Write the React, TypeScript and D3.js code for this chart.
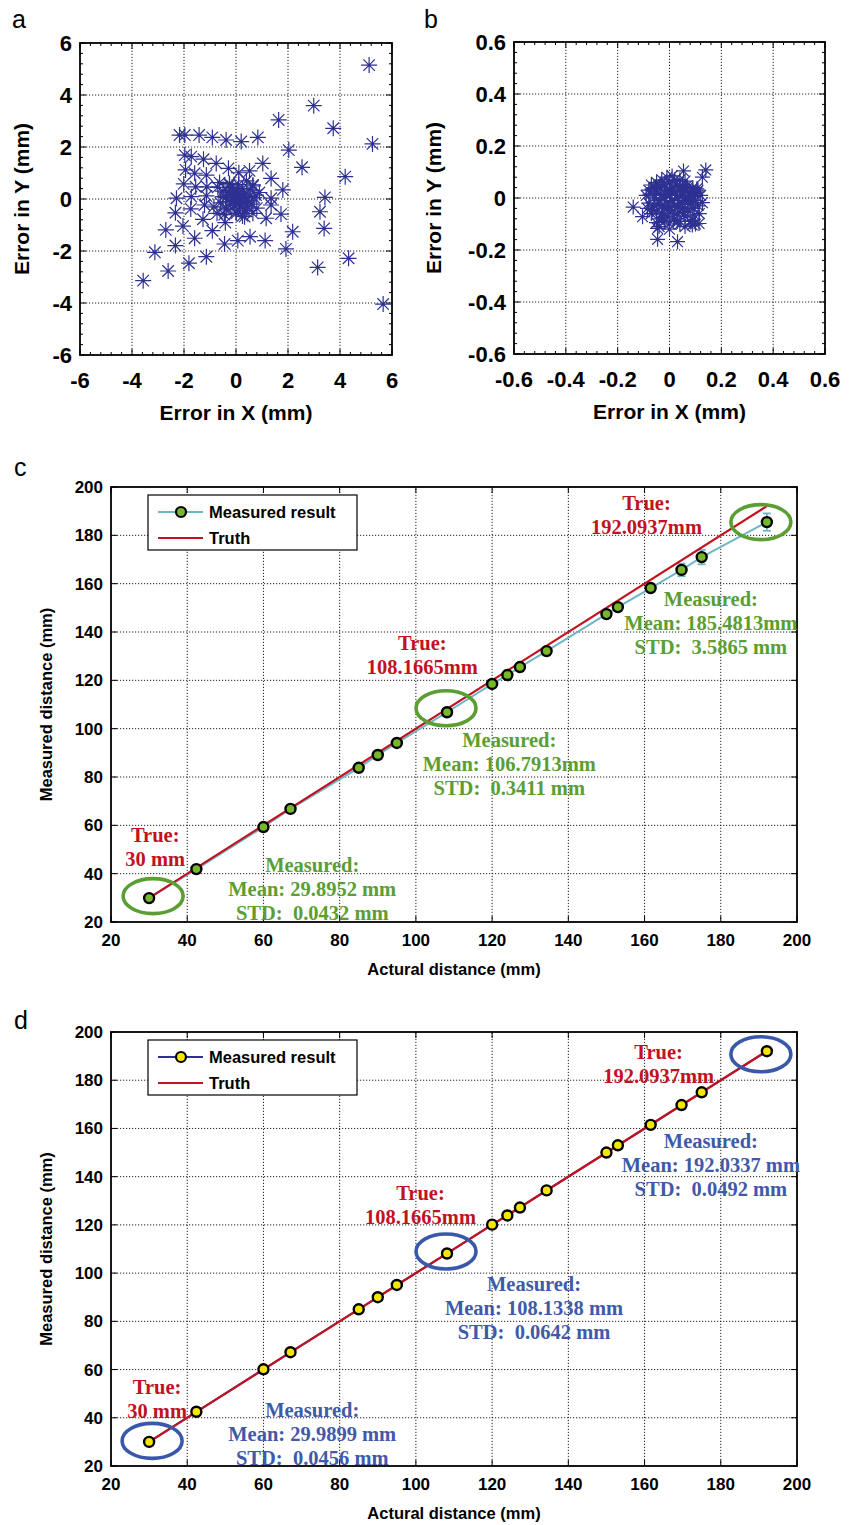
import React from 'react';
import * as d3 from 'd3';

// panel a: position error (mm), before correction
const errorsA: [number, number][] = [
  [5.12, 5.15], [2.99, 3.59], [1.64, 3.04], [3.74, 2.72], [5.25, 2.12], [2.03, 1.88],
  [2.54, 1.22], [4.2, 0.86], [3.42, 0.06], [3.23, -0.49], [3.39, -1.13], [2.18, -1.26],
  [1.92, -1.92], [4.33, -2.28], [3.14, -2.63], [5.66, -4.04], [-2.17, 2.46], [-1.97, 2.46],
  [-1.42, 2.46], [-0.91, 2.37], [-0.38, 2.27], [0.2, 2.21], [0.84, 2.37], [-1.97, 1.69],
  [-1.72, 1.63], [-1.25, 1.53], [-0.76, 1.37], [-0.29, 1.18], [0.11, 1.01], [0.52, 1.08],
  [1.03, 1.37], [-1.94, 1.12], [-1.59, 0.99], [-1.14, 0.92], [1.35, 0.79], [1.8, 0.35],
  [-2.01, 0.58], [-1.55, 0.47], [-1.12, 0.47], [-0.63, 0.63], [-0.25, 0.54], [0.65, 0.54],
  [-2.29, 0.03], [-1.72, 0.09], [-1.14, 0.12], [-0.5, 0.09], [-0.12, -0.04], [0.01, 0.09],
  [0.13, -0.17], [0.39, -0.04], [0.77, 0.15], [1.35, 0.03], [1.35, -0.23], [-2.33, -0.53],
  [-1.74, -0.38], [-1.21, -0.23], [-0.73, -0.55], [-0.38, -0.42], [0.01, -0.55], [0.33, -0.68],
  [0.65, -0.55], [1.16, -0.74], [1.73, -0.58], [-1.27, -0.78], [-0.41, -0.91], [-2.04, -1.04],
  [-2.7, -1.19], [-0.91, -1.22], [-1.59, -1.51], [-0.44, -1.73], [0.07, -1.6], [0.54, -1.45],
  [1.12, -1.6], [-2.33, -1.79], [-3.12, -2.05], [-1.14, -2.22], [-1.81, -2.47], [-2.61, -2.77],
  [-3.57, -3.14], [0.0, 0.0], [0.1, 0.1], [-0.1, 0.2], [0.2, -0.1], [-0.2, -0.1], [0.3, 0.2],
  [-0.3, 0.3], [0.15, -0.3], [-0.05, -0.25], [0.4, -0.05], [-0.4, 0.05], [0.05, 0.35],
  [0.25, 0.4], [-0.15, 0.45], [0.5, 0.1], [0.45, -0.3], [-0.35, -0.35], [0.6, -0.2],
  [-0.6, -0.15], [0.35, -0.45], [0.0, -0.5], [-0.25, 0.6], [0.1, 0.55], [0.55, 0.35],
  [0.7, 0.05], [-0.5, 0.3], [0.2, 0.0], [-0.1, -0.05], [0.05, 0.15], [0.3, -0.15],
  [-0.2, 0.15], [0.12, -0.12], [0.8, -0.35], [-0.7, 0.45], [0.65, 0.5], [-0.45, -0.6],
  [0.25, -0.65], [0.9, 0.25], [-0.85, -0.3], [0.4, 0.7],
];

// panel b: position error (mm), after correction
const errorsB: [number, number][] = [
  [-0.14, -0.035], [0.14, 0.108], [0.127, 0.08], [0.054, 0.104], [-0.046, -0.159], [0.031, -0.168],
  [-0.104, -0.072], [-0.046, -0.117], [0.088, -0.104], [0.114, -0.098], [0.127, -0.018], [0.108, 0.024],
  [-0.08, 0.03], [-0.07, 0.05], [-0.06, 0.0], [-0.06, -0.03], [-0.05, 0.06], [-0.05, 0.02],
  [-0.05, -0.05], [-0.04, 0.04], [-0.04, -0.01], [-0.04, -0.08], [-0.03, 0.07], [-0.03, 0.01],
  [-0.03, -0.03], [-0.03, -0.06], [-0.02, 0.05], [-0.02, 0.0], [-0.02, -0.04], [-0.02, -0.09],
  [-0.01, 0.03], [-0.01, -0.02], [-0.01, -0.07], [0.0, 0.06], [0.0, 0.01], [0.0, -0.03],
  [0.0, -0.1], [0.01, 0.04], [0.01, -0.01], [0.01, -0.05], [0.02, 0.07], [0.02, 0.02],
  [0.02, -0.03], [0.02, -0.08], [0.03, 0.05], [0.03, 0.0], [0.03, -0.06], [0.04, 0.03],
  [0.04, -0.02], [0.04, -0.1], [0.05, 0.05], [0.05, 0.01], [0.05, -0.04], [0.06, 0.03],
  [0.06, -0.01], [0.06, -0.07], [0.07, 0.04], [0.07, 0.0], [0.07, -0.05], [0.08, 0.02],
  [0.08, -0.02], [0.08, -0.09], [0.09, 0.04], [0.09, 0.0], [0.09, -0.04], [0.1, 0.02],
  [0.1, -0.01], [0.1, -0.1], [0.11, 0.03], [0.11, -0.03], [0.12, 0.01], [-0.07, -0.06],
  [-0.08, -0.02], [-0.09, 0.01], [-0.06, 0.04], [-0.01, 0.08], [0.04, 0.07], [-0.04, -0.11],
  [0.0, -0.12], [0.06, -0.11], [0.03, -0.09], [-0.075, 0.015], [-0.065, -0.045], [-0.055, 0.035],
  [-0.045, -0.025], [-0.035, 0.045], [-0.025, -0.075], [-0.015, 0.015], [-0.005, -0.045], [0.005, 0.025],
  [0.015, -0.085], [0.025, 0.045], [0.035, -0.035], [0.045, 0.015], [0.055, -0.055], [0.065, 0.045],
  [0.075, -0.025], [0.085, 0.005], [0.095, -0.065], [0.105, 0.035], [-0.085, -0.04], [0.115, -0.06],
  [0.01, 0.085], [0.06, 0.065], [-0.05, -0.095], [0.09, -0.085],
];

const ticksA = [-6, -4, -2, 0, 2, 4, 6];
const ticksB = [-0.6, -0.4, -0.2, 0, 0.2, 0.4, 0.6];

// panels c, d
const actualDist = [30, 42.4, 60, 67.1, 85, 90, 95, 108.1665, 120, 124, 127.3, 134.3, 150, 153, 161.6, 169.7, 175, 192.0937];
const measuredC = [29.8952, 41.9, 59.3, 66.8, 83.8, 89.1, 94.1, 106.7913, 118.5, 122.2, 125.5, 132.1, 147.4, 150.3, 158.2, 165.7, 171.0, 185.4813];
const stdC = [0.0432, 0.08, 0.1, 0.12, 0.2, 0.2, 0.25, 0.3411, 0.45, 0.5, 0.55, 0.7, 0.9, 1.0, 1.2, 2.6, 3.0, 3.5865];
const measuredD = [29.9899, 42.5, 60.1, 67.2, 85.0, 90.0, 95.1, 108.1338, 120.1, 123.9, 127.2, 134.3, 150.0, 153.0, 161.5, 169.7, 175.0, 192.0337];
const stdD = [0.0456, 0.05, 0.05, 0.05, 0.06, 0.06, 0.06, 0.0642, 0.05, 0.05, 0.05, 0.05, 0.05, 0.05, 0.05, 0.05, 0.05, 0.0492];
const distTicks = [20, 40, 60, 80, 100, 120, 140, 160, 180, 200];
const circled = [0, 7, 17];

type Note = { x: number; y: number; lines: string[]; kind: 'true' | 'meas' };

const notesC: Note[] = [
  { x: 31.6, y: 56.0, lines: ['True:', '30 mm'], kind: 'true' },
  { x: 72.8, y: 43.6, lines: ['Measured:', 'Mean: 29.8952 mm', 'STD:  0.0432 mm'], kind: 'meas' },
  { x: 101.7, y: 135.4, lines: ['True:', '108.1665mm'], kind: 'true' },
  { x: 124.5, y: 95.3, lines: ['Measured:', 'Mean: 106.7913mm', 'STD:  0.3411 mm'], kind: 'meas' },
  { x: 160.5, y: 193.4, lines: ['True:', '192.0937mm'], kind: 'true' },
  { x: 177.4, y: 153.7, lines: ['Measured:', 'Mean: 185.4813mm', 'STD:  3.5865 mm'], kind: 'meas' },
];
const notesD: Note[] = [
  { x: 32.1, y: 52.8, lines: ['True:', '30 mm'], kind: 'true' },
  { x: 72.8, y: 43.2, lines: ['Measured:', 'Mean: 29.9899 mm', 'STD:  0.0456 mm'], kind: 'meas' },
  { x: 101.2, y: 133.2, lines: ['True:', '108.1665mm'], kind: 'true' },
  { x: 131.0, y: 95.5, lines: ['Measured:', 'Mean: 108.1338 mm', 'STD:  0.0642 mm'], kind: 'meas' },
  { x: 163.7, y: 191.7, lines: ['True:', '192.0937mm'], kind: 'true' },
  { x: 177.4, y: 154.8, lines: ['Measured:', 'Mean: 192.0337 mm', 'STD:  0.0492 mm'], kind: 'meas' },
];
// pixel nudges of the rings around circled points
const ringShiftC = [[4, -2], [-1, -4], [-6, 0]];
const ringShiftD = [[3, -1], [-1, -2], [-6, 3]];

const SANS = '"Liberation Sans", Arial, sans-serif';
const SERIF = '"Liberation Serif", "Times New Roman", serif';
const STAR = '#2e3192';
const RED = '#c1121f';

function asterisk(r: number) {
  const d = r * 0.72;
  return `M${-r},0L${r},0M0,${-r}L0,${r}M${-d},${-d}L${d},${d}M${-d},${d}L${d},${-d}`;
}

function Frame({ x, y, ticksX, ticksY, minorX, minorY }: any) {
  const [x0, x1] = x.range();
  const [y0, y1] = y.range();
  const L = 6, l = 3;
  return (
    <g>
      {ticksX.slice(1, -1).map((t: number) => (
        <line key={'gx' + t} x1={x(t)} x2={x(t)} y1={y0} y2={y1} stroke="#222" strokeWidth={1} strokeDasharray="1.2,1.8" />
      ))}
      {ticksY.slice(1, -1).map((t: number) => (
        <line key={'gy' + t} x1={x0} x2={x1} y1={y(t)} y2={y(t)} stroke="#222" strokeWidth={1} strokeDasharray="1.2,1.8" />
      ))}
      {minorX.map((t: number, i: number) => (
        <g key={'mx' + i}>
          <line x1={x(t)} x2={x(t)} y1={y0} y2={y0 - l} stroke="#000" />
          <line x1={x(t)} x2={x(t)} y1={y1} y2={y1 + l} stroke="#000" />
        </g>
      ))}
      {minorY.map((t: number, i: number) => (
        <g key={'my' + i}>
          <line x1={x0} x2={x0 + l} y1={y(t)} y2={y(t)} stroke="#000" />
          <line x1={x1} x2={x1 - l} y1={y(t)} y2={y(t)} stroke="#000" />
        </g>
      ))}
      {ticksX.map((t: number) => (
        <g key={'tx' + t}>
          <line x1={x(t)} x2={x(t)} y1={y0} y2={y0 - L} stroke="#000" />
          <line x1={x(t)} x2={x(t)} y1={y1} y2={y1 + L} stroke="#000" />
        </g>
      ))}
      {ticksY.map((t: number) => (
        <g key={'ty' + t}>
          <line x1={x0} x2={x0 + L} y1={y(t)} y2={y(t)} stroke="#000" />
          <line x1={x1} x2={x1 - L} y1={y(t)} y2={y(t)} stroke="#000" />
        </g>
      ))}
      <rect x={x0} y={y1} width={x1 - x0} height={y0 - y1} fill="none" stroke="#000" strokeWidth={1.8} />
    </g>
  );
}

function minorOf(ticks: number[], parts: number) {
  const out: number[] = [];
  for (let i = 0; i < ticks.length - 1; i++) {
    const step = (ticks[i + 1] - ticks[i]) / parts;
    for (let k = 1; k < parts; k++) out.push(ticks[i] + k * step);
  }
  return out;
}

function ScatterPanel({ data, ticks, left, right, top, bottom, letter, letterX, starR }: any) {
  const x = d3.scaleLinear().domain([ticks[0], ticks[ticks.length - 1]]).range([left, right]);
  const y = d3.scaleLinear().domain([ticks[0], ticks[ticks.length - 1]]).range([bottom, top]);
  const minor = minorOf(ticks, 5);
  const star = asterisk(starR);
  return (
    <g>
      <text x={letterX} y={28} fontFamily={SANS} fontSize={25}>{letter}</text>
      <Frame x={x} y={y} ticksX={ticks} ticksY={ticks} minorX={minor} minorY={minor} />
      {data.map((d: [number, number], i: number) => (
        <path key={i} d={star} transform={`translate(${x(d[0])},${y(d[1])})`} stroke={STAR} strokeWidth={1.2} fill="none" />
      ))}
      {ticks.map((t: number) => (
        <text key={'lx' + t} x={x(t)} y={bottom + 33} textAnchor="middle" fontFamily={SANS} fontWeight="bold" fontSize={22}>{String(t)}</text>
      ))}
      {ticks.map((t: number) => (
        <text key={'ly' + t} x={left - 8} y={y(t) + 8} textAnchor="end" fontFamily={SANS} fontWeight="bold" fontSize={22}>{String(t)}</text>
      ))}
      <text x={(left + right) / 2} y={bottom + 65} textAnchor="middle" fontFamily={SANS} fontWeight="bold" fontSize={21}>Error in X (mm)</text>
      <text transform={`translate(${letterX + 17},${(top + bottom) / 2}) rotate(-90)`} textAnchor="middle" fontFamily={SANS} fontWeight="bold" fontSize={21}>Error in Y (mm)</text>
    </g>
  );
}

function DistancePanel({ top, bottom, measured, std, lineColor, markerFill, ringColor, ringShift, noteColor, notes, letter, letterY }: any) {
  const left = 111, right = 797;
  const x = d3.scaleLinear().domain([20, 200]).range([left, right]);
  const y = d3.scaleLinear().domain([20, 200]).range([bottom, top]);
  const pts = actualDist.map((a, i) => ({ a, m: measured[i], s: std[i] }));
  const line = d3.line<{ a: number; m: number }>().x(d => x(d.a)).y(d => y(d.m));
  const truth = d3.line<number>().x(d => x(d)).y(d => y(d));
  const lx = left + 37, ly = top + 8;
  return (
    <g>
      <text x={14} y={letterY} fontFamily={SANS} fontSize={25}>{letter}</text>
      <Frame x={x} y={y} ticksX={distTicks} ticksY={distTicks} minorX={[]} minorY={[]} />
      <path d={line(pts) || ''} fill="none" stroke={lineColor} strokeWidth={2} />
      {pts.map((p, i) => (
        <g key={'e' + i} stroke={lineColor} strokeWidth={1.8}>
          <line x1={x(p.a)} x2={x(p.a)} y1={y(p.m - p.s)} y2={y(p.m + p.s)} />
          <line x1={x(p.a) - 4} x2={x(p.a) + 4} y1={y(p.m - p.s)} y2={y(p.m - p.s)} />
          <line x1={x(p.a) - 4} x2={x(p.a) + 4} y1={y(p.m + p.s)} y2={y(p.m + p.s)} />
        </g>
      ))}
      <path d={truth([actualDist[0], actualDist[actualDist.length - 1]]) || ''} fill="none" stroke={RED} strokeWidth={2.2} />
      {pts.map((p, i) => (
        <circle key={'p' + i} cx={x(p.a)} cy={y(p.m)} r={5} fill={markerFill} stroke="#000" strokeWidth={2.4} />
      ))}
      {circled.map((i, k) => (
        <ellipse key={'c' + i} cx={x(pts[i].a) + ringShift[k][0]} cy={y(pts[i].m) + ringShift[k][1]} rx={30} ry={17.5} fill="none" stroke={ringColor} strokeWidth={3.6} />
      ))}
      {notes.map((n: Note, i: number) => (
        <text key={'n' + i} x={x(n.x)} y={y(n.y) + 7} textAnchor="middle" fontFamily={SERIF} fontWeight="bold" fontSize={20.5}
          fill={n.kind === 'true' ? RED : noteColor}>
          {n.lines.map((s, k) => (
            <tspan key={k} x={x(n.x)} dy={k === 0 ? 0 : 24} style={{ whiteSpace: 'pre' }}>{s}</tspan>
          ))}
        </text>
      ))}
      <rect x={lx} y={ly} width={209} height={55} fill="#fff" stroke="#000" strokeWidth={1.2} />
      <line x1={lx + 10} x2={lx + 55} y1={ly + 17} y2={ly + 17} stroke={lineColor} strokeWidth={2} />
      <circle cx={lx + 33} cy={ly + 17} r={5} fill={markerFill} stroke="#000" strokeWidth={2.2} />
      <text x={lx + 61} y={ly + 23} fontFamily={SANS} fontWeight="bold" fontSize={16.5}>Measured result</text>
      <line x1={lx + 10} x2={lx + 55} y1={ly + 43} y2={ly + 43} stroke={RED} strokeWidth={2} />
      <text x={lx + 61} y={ly + 49} fontFamily={SANS} fontWeight="bold" fontSize={16.5}>Truth</text>
      {distTicks.map(t => (
        <text key={'lx' + t} x={x(t)} y={bottom + 24} textAnchor="middle" fontFamily={SANS} fontWeight="bold" fontSize={17}>{t}</text>
      ))}
      {distTicks.map(t => (
        <text key={'ly' + t} x={left - 8} y={y(t) + 6} textAnchor="end" fontFamily={SANS} fontWeight="bold" fontSize={17}>{t}</text>
      ))}
      <text x={(left + right) / 2} y={bottom + 53} textAnchor="middle" fontFamily={SANS} fontWeight="bold" fontSize={16.5}>Actural distance (mm)</text>
      <text transform={`translate(52,${(top + bottom) / 2}) rotate(-90)`} textAnchor="middle" fontFamily={SANS} fontWeight="bold" fontSize={16.5}>Measured distance (mm)</text>
    </g>
  );
}

export default function App() {
  return (
    <svg width={850} height={1525} style={{ position: 'absolute', left: 0, top: 0, background: '#fff' }}>
      <ScatterPanel data={errorsA} ticks={ticksA} left={80} right={392} top={43} bottom={355} letter="a" letterX={12} starR={8} />
      <ScatterPanel data={errorsB} ticks={ticksB} left={514} right={825} top={42} bottom={354} letter="b" letterX={424} starR={7.5} />
      <DistancePanel top={487} bottom={922} measured={measuredC} std={stdC} lineColor="#6cb6c6" markerFill="#76b82a"
        ringColor="#5a9e34" ringShift={ringShiftC} noteColor="#5a9e34" notes={notesC} letter="c" letterY={476} />
      <DistancePanel top={1032} bottom={1466} measured={measuredD} std={stdD} lineColor="#2e3192" markerFill="#f5e600"
        ringColor="#3a58aa" ringShift={ringShiftD} noteColor="#3f5aa8" notes={notesD} letter="d" letterY={1029} />
    </svg>
  );
}
